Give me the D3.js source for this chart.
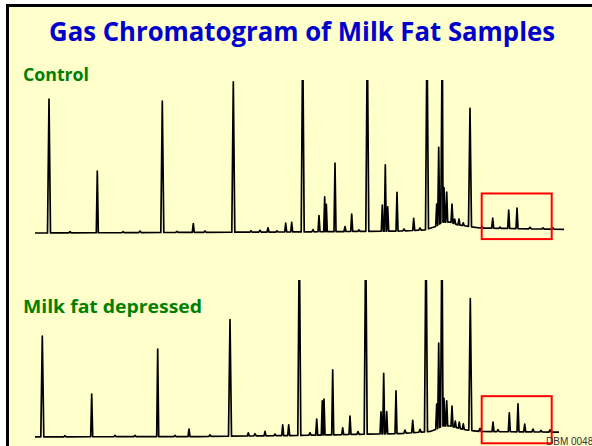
<!DOCTYPE html>
<html>
<head>
<meta charset="utf-8">
<script src="https://cdn.jsdelivr.net/npm/d3@7"></script>
<style>
  body { margin: 0; background: #fff; }
</style>
</head>
<body>
<div id="viz"></div>
<script>
var title = "Gas Chromatogram of Milk Fat Samples";
var panelNames = ["Control", "Milk fat depressed"];
var slideCode = "DBM 0048";

// retention time (min) and peak height (% of panel height)
var controlRT = [1.40, 6.23, 12.73, 15.83, 19.83, 21.60, 23.30, 25.07, 25.67, 26.77, 28.40, 28.97, 29.13,
  30.00, 31.00, 31.67, 33.23, 34.73, 35.03, 35.27, 36.20, 37.87, 39.20, 40.17, 40.37, 40.73, 40.90,
  41.17, 41.70, 41.97, 42.40, 42.83, 43.50, 45.77, 47.37, 48.20];
var controlHeight = [88.0, 40.5, 86.4, 5.7, 98.9, 1.0, 2.8, 5.8, 6.3, 130, 10.7, 22.9, 18.0,
  45.0, 3.3, 11.5, 130, 17.1, 43.6, 16.0, 25.5, 8.0, 130, 14.5, 50.9, 130, 22.6,
  19.7, 12.3, 3.0, 4.0, 1.8, 77.8, 6.6, 12.0, 13.4];

var depressedRT = [0.73, 5.67, 12.27, 15.40, 19.50, 21.33, 23.00, 24.77, 25.37, 26.43, 28.17, 28.73, 28.90,
  29.77, 30.77, 31.50, 33.07, 34.60, 34.87, 35.17, 36.10, 37.77, 39.10, 40.17, 40.37, 40.70, 40.90,
  41.17, 41.70, 42.03, 42.43, 42.83, 43.53, 45.80, 47.43, 48.30, 48.97];
var depressedHeight = [64.1, 27.2, 55.8, 4.7, 74.3, 2.0, 2.8, 6.8, 6.8, 130, 10.2, 21.8, 22.9,
  41.3, 4.3, 11.7, 130, 14.1, 38.5, 14.1, 27.3, 7.8, 130, 16.0, 54.0, 130, 17.6,
  16.0, 13.0, 4.0, 4.0, 3.5, 83.9, 6.0, 12.0, 17.8, 5.0];

// small baseline bumps
var controlMinorRT = [3.5, 8.8, 10.5, 14.2, 17.0, 22.5, 24.2, 27.8, 32.4, 36.9, 38.5, 44.7, 46.5, 49.5, 50.8, 51.8];
var controlMinor = [0.8, 0.6, 1.0, 0.7, 0.9, 1.2, 0.8, 1.5, 1.0, 1.2, 1.5, 1.0, 0.8, 1.0, 0.7, 0.9];
var depressedMinorRT = [3.0, 8.0, 10.0, 14.0, 17.5, 22.0, 24.0, 27.5, 32.3, 37.0, 38.5, 44.5, 46.3, 49.8, 50.6, 51.5];
var depressedMinor = [0.7, 0.9, 0.8, 0.7, 1.0, 1.4, 1.0, 1.6, 1.8, 2.0, 1.8, 2.0, 1.2, 1.8, 1.0, 1.4];

// baseline drift (same units), hump under the long-chain cluster
var controlDriftRT = [0, 26.5, 36.5, 39.0, 40.2, 40.7, 41.5, 42.3, 43.1, 44.5, 52.9];
var controlDrift = [0, 0.7, 1.3, 2.0, 4.6, 7.2, 7.2, 5.3, 4.6, 3.3, 2.4];
var depressedDriftRT = [0, 16.5, 26.5, 36.5, 39.5, 40.2, 40.7, 41.5, 42.3, 43.1, 44.5, 52.4];
var depressedDrift = [0.1, 0.3, 1.0, 2.2, 3.5, 5.1, 7.0, 7.0, 5.7, 4.5, 3.5, 3.1];

// red boxes around the late eluting peaks
var boxRT = [44.67, 51.67];
var boxLevel = [26, -4];

var width = 592, height = 446;

var svg = d3.select("#viz").append("svg")
  .attr("width", width)
  .attr("height", height);

svg.append("rect")
  .attr("x", 7.5).attr("y", 5.5)
  .attr("width", 640).attr("height", 480)
  .attr("fill", "#ffffcc")
  .attr("stroke", "#000")
  .attr("stroke-width", 3);

svg.append("text")
  .attr("x", 302).attr("y", 41)
  .attr("text-anchor", "middle")
  .attr("textLength", 506)
  .attr("lengthAdjust", "spacingAndGlyphs")
  .style("font-family", "'Comic Sans MS', 'Open Sans', sans-serif")
  .style("font-weight", "bold")
  .style("font-size", "27px")
  .attr("fill", "#0000cc")
  .text(title);

var x = d3.scaleLinear().domain([0, 53]).range([35, 565]);

var panels = [
  { name: panelNames[0], rt: controlRT, h: controlHeight, mrt: controlMinorRT, mh: controlMinor,
    drt: controlDriftRT, dl: controlDrift, zero: 233, span: 152, top: 80, labelY: 81, labelW: 66 },
  { name: panelNames[1], rt: depressedRT, h: depressedHeight, mrt: depressedMinorRT, mh: depressedMinor,
    drt: depressedDriftRT, dl: depressedDrift, zero: 437, span: 157, top: 280, labelY: 313, labelW: 179 }
];

function tracePoints(p) {
  var drift = d3.scaleLinear().domain(p.drt).range(p.dl).clamp(true);
  var peaks = [];
  p.rt.forEach(function(t, i) { peaks.push({ t: t, h: p.h[i], w: p.h[i] > 60 ? 0.15 : 0.1 }); });
  p.mrt.forEach(function(t, i) { peaks.push({ t: t, h: p.mh[i], w: 0.12 }); });
  var pts = [];
  p.drt.forEach(function(t) {
    var inside = peaks.some(function(k) { return t > k.t - k.w && t < k.t + k.w; });
    if (!inside) pts.push([t, drift(t)]);
  });
  peaks.forEach(function(k) {
    pts.push([k.t - k.w, drift(k.t - k.w)]);
    pts.push([k.t, drift(k.t) + k.h]);
    pts.push([k.t + k.w, drift(k.t + k.w)]);
  });
  pts.sort(function(a, b) { return a[0] - b[0]; });
  return pts;
}

panels.forEach(function(p, i) {
  var y = d3.scaleLinear().domain([0, 100]).range([p.zero, p.zero - p.span]);

  svg.append("clipPath").attr("id", "clip" + i)
    .append("rect").attr("x", 0).attr("y", p.top).attr("width", width).attr("height", 200);

  svg.append("text")
    .attr("x", 23).attr("y", p.labelY)
    .attr("textLength", p.labelW)
    .attr("lengthAdjust", "spacingAndGlyphs")
    .style("font-family", "'Comic Sans MS', 'Open Sans', sans-serif")
    .style("font-weight", "bold")
    .style("font-size", "18px")
    .attr("fill", "#008000")
    .text(p.name);

  var line = d3.line()
    .x(function(d) { return x(d[0]); })
    .y(function(d) { return y(d[1]); });

  svg.append("path")
    .datum(tracePoints(p))
    .attr("clip-path", "url(#clip" + i + ")")
    .attr("d", line)
    .attr("fill", "none")
    .attr("stroke", "#000")
    .attr("stroke-width", 1.7)
    .attr("stroke-linejoin", "round");

  svg.append("rect")
    .attr("x", x(boxRT[0]))
    .attr("y", y(boxLevel[0]))
    .attr("width", x(boxRT[1]) - x(boxRT[0]))
    .attr("height", y(boxLevel[1]) - y(boxLevel[0]))
    .attr("fill", "none")
    .attr("stroke", "#ff0000")
    .attr("stroke-width", 2);
});

svg.append("text")
  .attr("x", 546).attr("y", 445)
  .style("font-family", "'Liberation Sans', Arial, sans-serif")
  .style("font-size", "10px")
  .attr("fill", "#333")
  .text(slideCode);
</script>
</body>
</html>
